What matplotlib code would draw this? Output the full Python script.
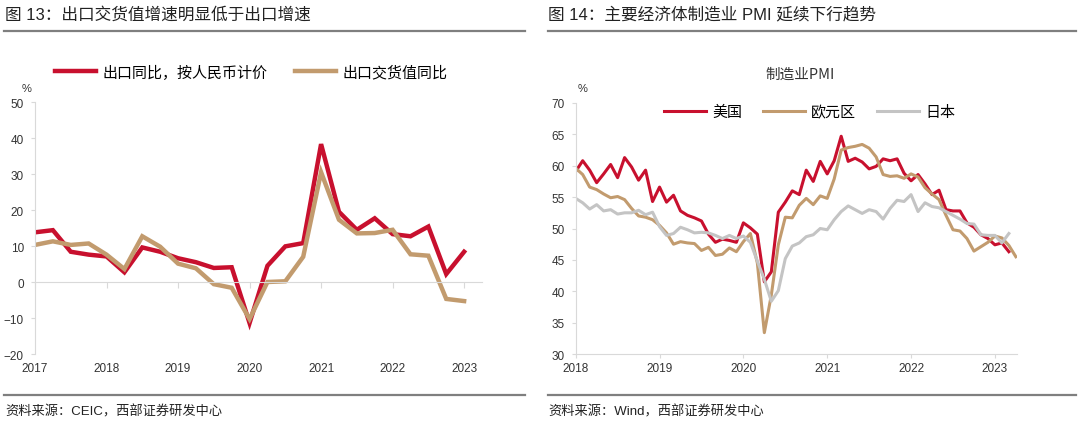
import matplotlib
matplotlib.use("Agg")
import matplotlib.pyplot as plt
from matplotlib.lines import Line2D
import numpy as np

plt.rcParams['font.family'] = ['Liberation Sans', 'Noto Sans CJK SC', 'DejaVu Sans']
CJK = ['Noto Sans CJK SC', 'DejaVu Sans']
MIX = ['Liberation Sans', 'Noto Sans CJK SC', 'DejaVu Sans']

# ---- left chart: quarterly, 2017 Q1 .. 2023 Q1 ----
exp_yoy = [13.8, 14.4, 8.4, 7.6, 7.1, 2.7, 9.6, 8.4, 6.6, 5.5, 3.9, 4.1,
           -11.4, 4.5, 9.9, 10.8, 38.3, 19.5, 14.5, 17.7, 13.3, 12.7, 15.4, 2.2, 8.4]
dlv_yoy = [10.3, 11.3, 10.3, 10.7, 7.6, 3.6, 12.7, 9.8, 5.1, 3.8, -0.6, -1.6,
           -10.3, 0.0, 0.2, 7.0, 30.5, 17.3, 13.5, 13.6, 14.5, 7.7, 7.3, -4.7, -5.3]
left_labels = ['出口同比，按人民币计价', '出口交货值同比']
left_years = [2017, 2018, 2019, 2020, 2021, 2022, 2023]

# ---- right chart: monthly manufacturing PMI from 2018-01 ----
pmi_us = [59.1, 60.8, 59.3, 57.3, 58.7, 60.2, 58.1, 61.3, 59.8, 57.7, 59.3, 54.3,
          56.6, 54.2, 55.3, 52.8, 52.1, 51.7, 51.2, 49.1, 47.8, 48.3, 48.1, 47.8,
          50.9, 50.1, 49.1, 41.5, 43.1, 52.6, 54.2, 56.0, 55.4, 59.3, 57.5, 60.7,
          58.7, 60.8, 64.7, 60.7, 61.2, 60.6, 59.5, 59.9, 61.1, 60.8, 61.1, 58.8,
          57.6, 58.6, 57.1, 55.4, 56.1, 53.0, 52.8, 52.8, 50.9, 50.2, 49.0, 48.4,
          47.4, 47.7, 46.3]
pmi_eu = [59.6, 58.6, 56.6, 56.2, 55.5, 54.9, 55.1, 54.6, 53.2, 52.0, 51.8, 51.4,
          50.5, 49.3, 47.5, 47.9, 47.7, 47.6, 46.5, 47.0, 45.7, 45.9, 46.9, 46.3,
          47.9, 49.2, 44.5, 33.4, 39.4, 47.4, 51.8, 51.7, 53.7, 54.8, 53.8, 55.2,
          54.8, 57.9, 62.5, 62.9, 63.1, 63.4, 62.8, 61.4, 58.6, 58.3, 58.4, 58.0,
          58.7, 58.2, 56.5, 55.5, 54.6, 52.1, 49.8, 49.6, 48.4, 46.4, 47.1, 47.8,
          48.8, 48.5, 47.3, 45.5]
pmi_jp = [54.8, 54.1, 53.1, 53.8, 52.8, 53.0, 52.3, 52.5, 52.5, 52.9, 52.2, 52.6,
          50.3, 48.9, 49.2, 50.2, 49.8, 49.3, 49.4, 49.3, 48.9, 48.4, 48.9, 48.4,
          48.8, 47.8, 44.8, 41.9, 38.4, 40.1, 45.2, 47.2, 47.7, 48.7, 49.0, 50.0,
          49.8, 51.4, 52.7, 53.6, 53.0, 52.4, 53.0, 52.7, 51.5, 53.2, 54.5, 54.3,
          55.4, 52.7, 54.1, 53.5, 53.3, 52.7, 52.1, 51.5, 50.8, 50.7, 49.0, 48.9,
          48.9, 47.7, 49.2]
right_labels = ['美国', '欧元区', '日本']
right_years = [2018, 2019, 2020, 2021, 2022, 2023]

RED = '#C8102E'
TAN = '#C29B6E'
GRAY = '#C4C4C4'
AXC = '#D9D9D9'
TXT = '#333333'

W, H = 1080, 427
fig = plt.figure(figsize=(10.8, 4.27), dpi=100)


def fx(px):
    return px / W


def fy(py):
    return 1 - py / H


# titles and rules
fig.text(fx(5), fy(15), '图 13：出口交货值增速明显低于出口增速', family=MIX,
         fontsize=12, va='center', ha='left', color='#222222')
fig.text(fx(548), fy(15), '图 14：主要经济体制造业 PMI 延续下行趋势', family=MIX,
         fontsize=12, va='center', ha='left', color='#222222')
for x0, x1 in [(4, 525), (548, 1076)]:
    for yy in (32, 396):
        fig.add_artist(Line2D([fx(x0), fx(x1)], [fy(yy), fy(yy)],
                              color='#7F7F7F', lw=1.6, transform=fig.transFigure))
fig.text(fx(5), fy(412), '资料来源：CEIC，西部证券研发中心', family=MIX,
         fontsize=9.5, va='center', ha='left', color='#222222')
fig.text(fx(548), fy(412), '资料来源：Wind，西部证券研发中心', family=MIX,
         fontsize=9.5, va='center', ha='left', color='#222222')

# ---------- left chart ----------
ax = fig.add_axes([fx(35), fy(355), fx(482 - 35), (355 - 103) / H])
qx = 2017 + np.arange(len(exp_yoy)) / 4
ax.plot(qx, exp_yoy, color=RED, lw=3.2, label=left_labels[0], solid_joinstyle='miter')
ax.plot(qx, dlv_yoy, color=TAN, lw=3.2, label=left_labels[1], solid_joinstyle='miter')
ax.set_xlim(2017, 2023.25)
ax.set_ylim(-20, 50)
ax.set_yticks(np.arange(-20, 51, 10))
ax.set_xticks(left_years)
for s in ('top', 'right'):
    ax.spines[s].set_visible(False)
ax.spines['left'].set_color(AXC)
ax.spines['bottom'].set_color(AXC)
ax.spines['bottom'].set_position(('data', 0))
ax.tick_params(axis='y', length=3, color=AXC, labelsize=8.5, labelcolor=TXT, pad=5)
ax.tick_params(axis='x', length=4, color=AXC, labelbottom=False, direction='out')
sec = ax.secondary_xaxis('bottom')
sec.set_xticks(left_years)
sec.spines['bottom'].set_visible(False)
sec.tick_params(length=0, labelsize=8.5, labelcolor=TXT, pad=6)
ax.legend(loc='center left', bbox_to_anchor=(fx(55), fy(73)), bbox_transform=fig.transFigure,
          ncol=2, frameon=False, borderpad=0, borderaxespad=0, handlelength=2.75,
          handletextpad=0.45, columnspacing=1.8, prop={'family': CJK, 'size': 10.8})
fig.text(fx(27), fy(89), '%', fontsize=8, va='center', ha='center', color=TXT)

# ---------- right chart ----------
bx = fig.add_axes([fx(575.7), fy(355), fx(1016.7 - 575.7), (355 - 104) / H])
bx.plot(2018 + np.arange(len(pmi_us)) / 12, pmi_us, color=RED, lw=2.2, label=right_labels[0])
bx.plot(2018 + np.arange(len(pmi_eu)) / 12, pmi_eu, color=TAN, lw=2.2, label=right_labels[1])
bx.plot(2018 + np.arange(len(pmi_jp)) / 12, pmi_jp, color=GRAY, lw=2.2, label=right_labels[2])
bx.set_xlim(2018, 2023.26)
bx.set_ylim(30, 70)
bx.set_yticks(np.arange(30, 71, 5))
bx.set_xticks(right_years)
for s in ('top', 'right'):
    bx.spines[s].set_visible(False)
bx.spines['left'].set_color(AXC)
bx.spines['bottom'].set_color(AXC)
bx.tick_params(axis='y', length=3, color=AXC, labelsize=8.5, labelcolor=TXT, pad=5)
bx.tick_params(axis='x', length=3, color=AXC, labelsize=8.5, labelcolor=TXT, pad=3)
bx.legend(loc='center left', bbox_to_anchor=(fx(664), fy(113)), bbox_transform=fig.transFigure,
          ncol=3, frameon=False, borderpad=0, borderaxespad=0, handlelength=2.8,
          handletextpad=0.4, columnspacing=1.4, prop={'family': CJK, 'size': 10.8})
fig.text(fx(800), fy(75), '制造业PMI', family=CJK, fontsize=10.5, va='center',
         ha='center', color=TXT)
fig.text(fx(583), fy(89), '%', fontsize=8, va='center', ha='center', color=TXT)

fig.savefig('out.png', dpi=100, facecolor='white')
